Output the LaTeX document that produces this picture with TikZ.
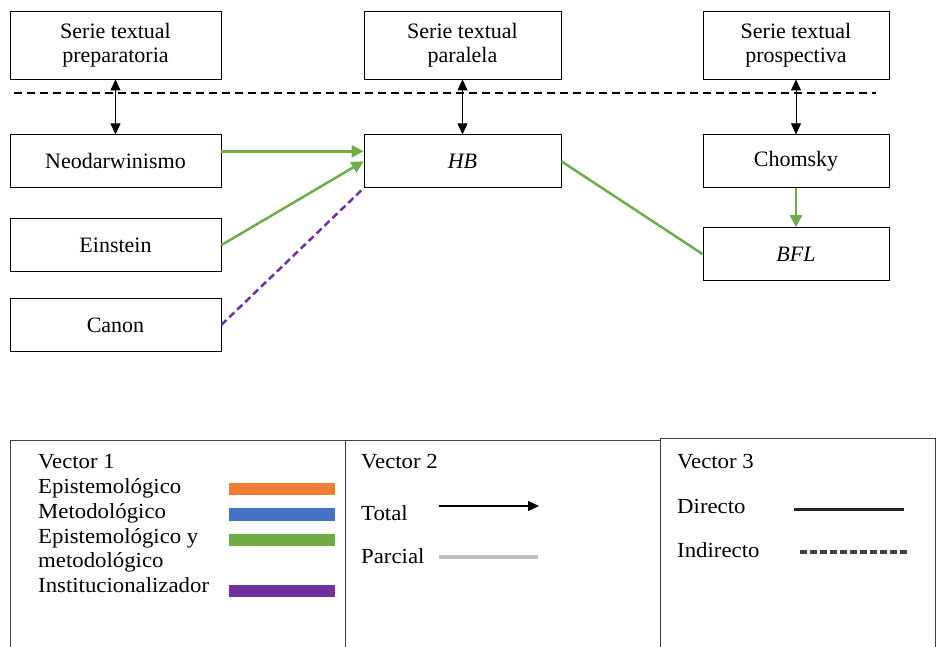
\documentclass[tikz,border=0pt]{standalone}
\usepackage{fontspec}
\setmainfont{Liberation Serif}
\newfontfamily\leyenda[FakeStretch=1.06]{Liberation Serif}
\usetikzlibrary{arrows.meta}
\usetikzlibrary{positioning}

\definecolor{verde}{HTML}{70AD47}
\definecolor{naranja}{HTML}{ED7D31}
\definecolor{azul}{HTML}{4472C4}
\definecolor{morado}{HTML}{7030A0}
\definecolor{gris}{HTML}{BFBFBF}

\begin{document}
\begin{tikzpicture}
        [x=1pt, y=-1pt, node distance=55pt,
         every node/.style={font=\fontsize{22}{24.5}\selectfont, inner sep=0pt},
         serie/.style={draw, line width=0.8pt, minimum height=68pt, align=center},
         caja/.style={draw, line width=0.8pt, minimum height=53pt},
         doble/.style={{Triangle[length=11pt,width=10pt]}-{Triangle[length=11pt,width=10pt]}, line width=0.8pt},
         vverde/.style={verde, line width=2.5pt},
         punta/.style={-{Triangle[length=12pt,width=12pt]}},
         leg/.style={anchor=base west, font=\leyenda\fontsize{21.5}{24}\selectfont},
         marco/.style={draw=black!75, line width=0.9pt}]
        \useasboundingbox (0,0) rectangle (936,647);
        \node [serie, minimum width=211pt] (prep) at (115.5,45) {Serie textual\\preparatoria};
        \node [serie, minimum width=197pt] (para) at (462.5,45) {Serie textual\\paralela};
        \node [serie, minimum width=186pt] (prosp) at (796,45) {Serie textual\\prospectiva};
        \node [caja, minimum width=211pt, below=of prep] (neo) {Neodarwinismo};
        \node [caja, minimum width=211pt, below=30pt of neo] (ein) {Einstein};
        \node [caja, minimum width=211pt, below=26pt of ein] (canon) {Canon};
        \node [caja, minimum width=197pt, below=of para] (hb) {\textit{HB}};
        \node [caja, minimum width=186pt, below=of prosp] (chom) {Chomsky};
        \node [caja, minimum width=186pt, below=39pt of chom] (bfl) {\textit{BFL}};
        \coordinate (lizq) at (14,93);
        \coordinate (lder) at (876,93);
        \draw [line width=1.6pt, dash pattern=on 8pt off 5pt] (lizq) -- (lder);
        \draw [doble] (prep) -- (neo);
        \draw [doble] (para) -- (hb);
        \draw [doble] (prosp) -- (chom);
        \draw [vverde, punta] ([yshift=10pt]neo.east) -- ([yshift=10pt]hb.west);
        \draw [vverde, punta] (ein.east) -- (hb.west);
        \draw [morado, line width=2.5pt, dash pattern=on 7pt off 4pt] (canon.east) -- (hb.south west);
        \draw [vverde] (hb.east) -- (bfl.west);
        \draw [vverde, punta] (chom) -- (bfl);
        \draw [marco] (10,647) |- (345,440) -- (345,647);
        \draw [marco] (345,440) -- (660,440);
        \draw [marco] (660,647) |- (935,438) -- (935,647);
        \node [leg] (v1) at (38,468) {Vector 1};
        \node [leg] (epi) at (38,493) {Epistemológico};
        \node [leg] (met) at (38,518) {Metodológico};
        \node [leg] (epimet) at (38,543) {Epistemológico y};
        \node [leg] (epimet2) at (38,567) {metodológico};
        \node [leg] (inst) at (38,592) {Institucionalizador};
        \fill [naranja] (229,483) rectangle (335,495);
        \fill [azul] (229,508) rectangle (335,521);
        \fill [verde] (229,534) rectangle (335,546);
        \fill [morado] (229,585) rectangle (335,597);
        \node [leg] (v2) at (361,468) {Vector 2};
        \node [leg] (total) at (361,520) {Total};
        \node [leg] (parcial) at (361,563) {Parcial};
        \coordinate (ta) at (439,506);
        \coordinate (tb) at (539,506);
        \coordinate (pa) at (439,557);
        \coordinate (pb) at (538,557);
        \draw [line width=1.3pt, -{Triangle[length=11pt,width=10pt]}] (ta) -- (tb);
        \draw [gris, line width=4pt] (pa) -- (pb);
        \node [leg] (v3) at (677,468) {Vector 3};
        \node [leg] (dir) at (677,513) {Directo};
        \node [leg] (ind) at (677,557) {Indirecto};
        \coordinate (da) at (794,509);
        \coordinate (db) at (904,509);
        \coordinate (ia) at (800,552);
        \coordinate (ib) at (910,552);
        \draw [black!85, line width=3pt] (da) -- (db);
        \draw [black!75, line width=4.5pt, dash pattern=on 7pt off 3pt] (ia) -- (ib);
    \end{tikzpicture}
\end{document}
